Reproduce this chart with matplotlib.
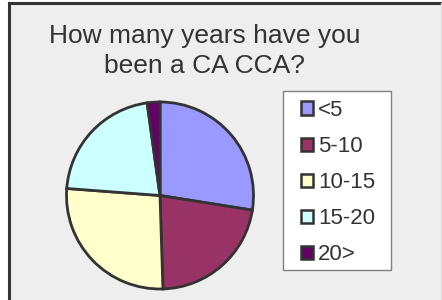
import matplotlib
matplotlib.use("Agg")
import matplotlib.pyplot as plt
from matplotlib.patches import Rectangle, Patch
from matplotlib.lines import Line2D

categories = ["<5", "5-10", "10-15", "15-20", "20>"]
values = [27.5, 22.0, 26.7, 21.6, 2.2]
colors = ["#9999FF", "#993366", "#FFFFCC", "#CCFFFF", "#660066"]
title_lines = ["How many years have you", "been a CA CCA?"]

plt.rcParams['font.family'] = ['Liberation Sans', 'DejaVu Sans']

W, H = 442, 300
fig = plt.figure(figsize=(W / 100, H / 100), dpi=100)
fig.patch.set_facecolor("white")

def fx(px):
    return px / W

def fy(py):
    return 1 - py / H

# chart area background
fig.patches.append(Rectangle((fx(9), 0), fx(442) - fx(9), fy(3), transform=fig.transFigure,
                             facecolor="#EEEEEE", edgecolor="none", zorder=-5))
# borders
fig.lines.append(Line2D([fx(9), fx(9)], [0, fy(3)], transform=fig.transFigure,
                        color="#333333", linewidth=2.2, zorder=-4))
fig.lines.append(Line2D([fx(9), 1], [fy(3), fy(3)], transform=fig.transFigure,
                        color="#333333", linewidth=2.2, zorder=-4))
fig.lines.append(Line2D([fx(441), fx(441)], [0, fy(3)], transform=fig.transFigure,
                        color="#DDDDDD", linewidth=1, zorder=-4))

# title
fig.text(fx(204.5), fy(43), title_lines[0], ha="center", va="baseline",
         fontsize=19, color="#333333")
fig.text(fx(204.5), fy(73), title_lines[1], ha="center", va="baseline",
         fontsize=19, color="#333333")

# pie
cx, cy, r = 160, 195.5, 93.5
ax = fig.add_axes([fx(cx - r), fy(cy + r), (2 * r) / W, (2 * r) / H])
ax.set_facecolor("none")
ax.pie(values, colors=colors, startangle=90, counterclock=False, radius=1,
       wedgeprops=dict(edgecolor="#333333", linewidth=2.0))
ax.set_xlim(-1, 1)
ax.set_ylim(-1, 1)
ax.set_aspect("equal")
ax.axis("off")

# legend frame
fig.patches.append(Rectangle((fx(283.3), fy(270.3)), fx(391.3) - fx(283.3), fy(90.7) - fy(270.3),
                             transform=fig.transFigure, facecolor="white",
                             edgecolor="#808080", linewidth=1.0, zorder=1))
# legend entries
handles = [Patch(facecolor=c, edgecolor="#333333", linewidth=1.8) for c in colors]
leg = fig.legend(handles, categories, loc="upper left",
                 bbox_to_anchor=(fx(300.7), fy(100)), bbox_transform=fig.transFigure,
                 fontsize=16, frameon=False,
                 borderpad=0, labelspacing=0.68, handlelength=0.55, handleheight=0.55,
                 handletextpad=0.22, borderaxespad=0, labelcolor="#333333")
leg.set_zorder(2)

fig.savefig("out.png", dpi=100, facecolor=fig.get_facecolor())
